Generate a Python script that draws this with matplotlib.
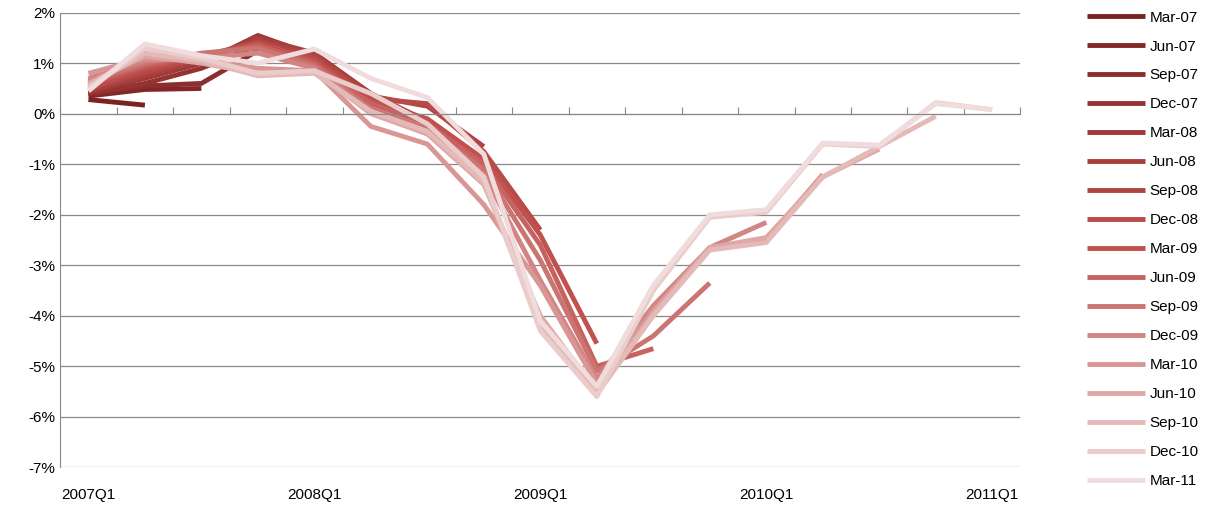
import matplotlib
matplotlib.use('Agg')
import matplotlib.pyplot as plt
import matplotlib.colors as mcolors
import numpy as np

quarters = ['2007Q1', '2007Q2', '2007Q3', '2007Q4', '2008Q1', '2008Q2', '2008Q3', '2008Q4',
            '2009Q1', '2009Q2', '2009Q3', '2009Q4', '2010Q1', '2010Q2', '2010Q3', '2010Q4', '2011Q1']

vintages = ['Mar-07', 'Jun-07', 'Sep-07', 'Dec-07', 'Mar-08', 'Jun-08', 'Sep-08', 'Dec-08', 'Mar-09',
            'Jun-09', 'Sep-09', 'Dec-09', 'Mar-10', 'Jun-10', 'Sep-10', 'Dec-10', 'Mar-11']

# growth estimates (%) per vintage, starting at 2007Q1
estimates = [
    [0.28, 0.17],
    [0.35, 0.48, 0.50],
    [0.40, 0.55, 0.60, 1.25],
    [0.40, 0.60, 0.90, 1.35, 1.10],
    [0.45, 0.70, 1.00, 1.55, 1.15, 0.40],
    [0.45, 0.75, 1.05, 1.50, 1.20, 0.40, -0.15],
    [0.50, 0.80, 1.10, 1.45, 1.15, 0.35, 0.15, -0.65],
    [0.50, 0.85, 1.10, 1.40, 1.10, 0.30, 0.20, -0.75, -2.30],
    [0.55, 0.90, 1.15, 1.40, 1.05, 0.25, -0.10, -0.90, -2.40, -4.55],
    [0.60, 0.95, 1.15, 1.35, 1.00, 0.20, -0.20, -1.00, -2.60, -5.00, -4.65],
    [0.65, 1.00, 1.20, 1.30, 0.95, 0.10, -0.30, -1.10, -2.90, -5.10, -4.40, -3.35],
    [0.70, 1.05, 1.10, 1.20, 0.90, 0.05, -0.40, -1.20, -3.30, -5.25, -3.80, -2.65, -2.15],
    [0.80, 1.10, 1.05, 0.90, 0.85, -0.25, -0.60, -1.80, -3.40, -5.35, -3.90, -2.65, -2.50, -1.20],
    [0.60, 1.15, 1.00, 0.80, 0.85, 0.00, -0.40, -1.40, -4.00, -5.50, -3.95, -2.65, -2.45, -1.25, -0.70],
    [0.55, 1.20, 1.05, 0.75, 0.80, 0.05, -0.35, -1.35, -4.20, -5.55, -4.00, -2.70, -2.55, -1.25, -0.65, -0.05],
    [0.50, 1.30, 1.10, 0.80, 0.85, 0.40, -0.20, -1.25, -4.30, -5.60, -3.50, -2.05, -1.95, -0.60, -0.65, 0.22, 0.08],
    [0.45, 1.38, 1.15, 1.00, 1.28, 0.70, 0.32, -0.80, -4.10, -5.40, -3.40, -2.00, -1.90, -0.58, -0.62, 0.20, 0.08],
]

cmap = mcolors.LinearSegmentedColormap.from_list('reds', ['#7b2222', '#c0504d', '#f0dcdc'])

fig, ax = plt.subplots(figsize=(12.28, 5.08), dpi=100)
fig.subplots_adjust(left=0.049, right=0.831, top=0.975, bottom=0.08)

for i, (name, vals) in enumerate(zip(vintages, estimates)):
    ax.plot(np.arange(len(vals)), vals, color=cmap(i / (len(vintages) - 1)),
            linewidth=3.5, label=name, solid_capstyle='butt')

ax.set_xlim(-0.5, 16.5)
ax.set_ylim(-7, 2)
ax.set_yticks(np.arange(-7, 3, 1))
ax.set_yticklabels([f'{v}%' for v in range(-7, 3)], fontsize=11, family='Liberation Sans')
ax.yaxis.grid(True, color='#888888', linewidth=0.9)
ax.set_axisbelow(True)

ax.set_xticks(np.arange(-0.5, 17, 1))
ax.set_xticklabels([])
ax.tick_params(axis='x', length=5, direction='in', color='#888888')
ax.tick_params(axis='y', length=0)
for idx in range(0, 17, 4):
    ax.text(idx, -7.4, quarters[idx], ha='center', va='top', fontsize=11, family='Liberation Sans')

for s in ['top', 'right']:
    ax.spines[s].set_visible(False)
ax.spines['left'].set_color('#888888')
ax.spines['bottom'].set_color('#888888')
ax.spines['bottom'].set_position(('data', 0))

leg = ax.legend(loc='upper left', bbox_to_anchor=(1.055, 1.035), frameon=False,
                prop={'family': 'Liberation Sans', 'size': 11}, handlelength=3.8,
                labelspacing=0.98, handletextpad=0.3)

plt.savefig('out.png', dpi=100)
